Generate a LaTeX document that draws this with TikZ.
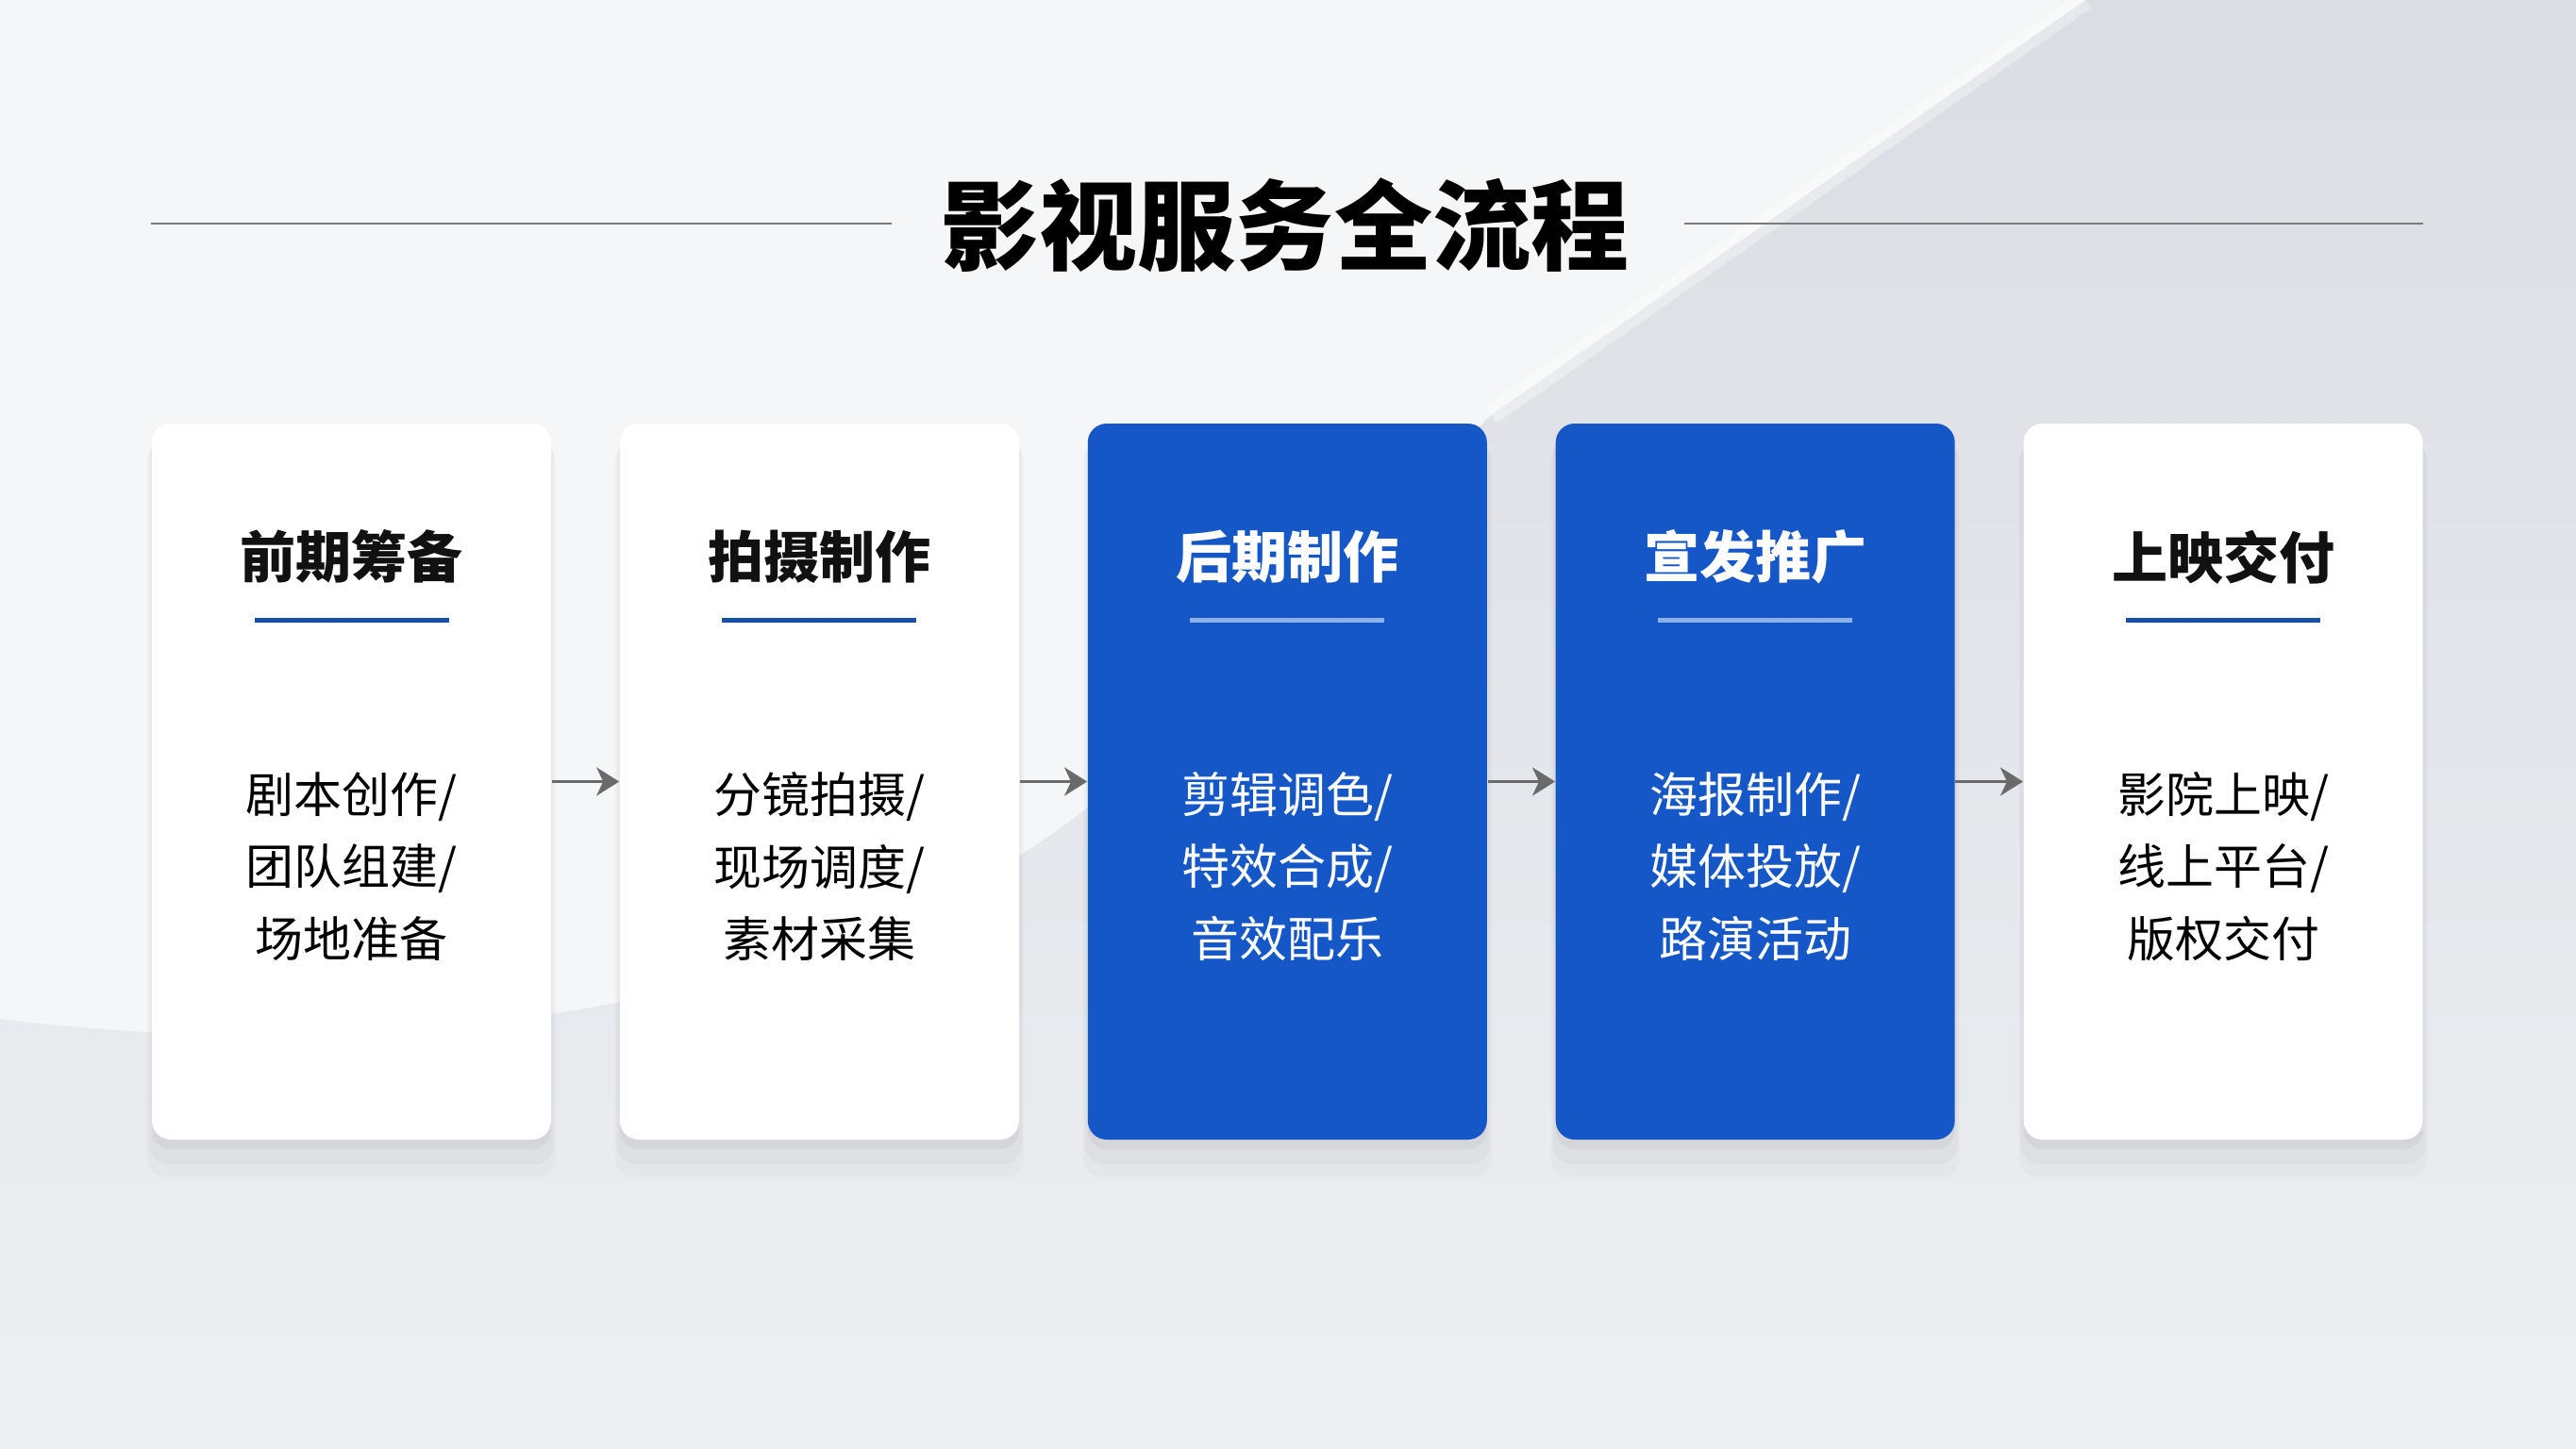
\documentclass[tikz,border=0pt]{standalone}
\usepackage{fontspec}
\setmainfont{Noto Sans CJK SC}
\usepackage{tikz}
\usetikzlibrary{arrows.meta, positioning, calc, shadows}
\definecolor{filmBlue}{HTML}{1657C7}
\definecolor{ruleBlue}{HTML}{1B4FA6}
\definecolor{ruleLight}{HTML}{8FB1EA}
\definecolor{arrowGray}{HTML}{6A6A6A}
\definecolor{lineGray}{HTML}{7A7A7A}
\definecolor{bgTop}{HTML}{DADDE3}
\definecolor{bgBottom}{HTML}{EDEFF2}
\definecolor{bgLight}{HTML}{F5F6F7}
\definecolor{headInk}{HTML}{111111}

\begin{document}
\begin{tikzpicture}[
    card/.style={rectangle, rounded corners=0.2cm, minimum width=4.23cm,
      minimum height=7.59cm, fill=white,
      drop shadow={shadow xshift=0cm, shadow yshift=-0.10cm, shadow scale=1.0, opacity=0.05, fill=black!80},
      drop shadow={shadow xshift=0cm, shadow yshift=-0.20cm, shadow scale=1.015, opacity=0.035, fill=black!80},
      drop shadow={shadow xshift=0cm, shadow yshift=-0.30cm, shadow scale=1.025, opacity=0.025, fill=black!80}},
    cardBlue/.style={card, fill=filmBlue},
    head/.style={font=\fontsize{16.8}{20}\selectfont\bfseries, text=headInk},
    body/.style={font=\fontsize{14.5}{21.8}\selectfont, align=center, text=black},
    rule/.style={line width=1.5pt, draw=ruleBlue},
    flow/.style={-{Stealth[length=0.24cm, width=0.3cm, inset=0.07cm]},
      draw=arrowGray, line width=0.9pt}]
    \useasboundingbox (0,0) rectangle (27.30,-15.35);
    % --- fondo ---
    \shade[top color=bgTop, bottom color=bgBottom] (0,0) rectangle (27.30,-15.35);
    \fill[bgLight] (0,0) -- (22.1,0) -- (15.8,-4.4) -- (11.6,-8.5)
      .. controls (9.5,-10.2) and (6.5,-10.8) .. (3.5,-11.0)
      .. controls (2.0,-11.0) and (0.8,-10.9) .. (0,-10.8) -- cycle;
    \draw[white, opacity=0.35, line width=6pt] (22.1,0) -- (15.8,-4.4);
    % --- titulo ---
    \node[font=\fontsize{29.6}{34}\selectfont\bfseries, text=black] (title) at (13.62,-2.39) {影视服务全流程};
    \draw[lineGray, line width=0.6pt] (1.60,-2.37) -- (9.45,-2.37);
    \draw[lineGray, line width=0.6pt] (17.85,-2.37) -- (25.68,-2.37);
    % --- tarjetas ---
    \node[card] (pre) at (3.725,-8.285) {};
    \node[card, right=0.715cm of pre] (shoot) {};
    \node[cardBlue, right=0.715cm of shoot] (post) {};
    \node[cardBlue, right=0.715cm of post] (promo) {};
    \node[card, right=0.715cm of promo] (release) {};
    % --- titulos de tarjeta ---
    \node[head] (preH) at ($(pre.north)+(0,-1.42)$) {前期筹备};
    \node[head] (shootH) at ($(shoot.north)+(0,-1.42)$) {拍摄制作};
    \node[head, text=white] (postH) at ($(post.north)+(0,-1.42)$) {后期制作};
    \node[head, text=white] (promoH) at ($(promo.north)+(0,-1.42)$) {宣发推广};
    \node[head] (releaseH) at ($(release.north)+(0,-1.42)$) {上映交付};
    \draw[rule] ($(pre.north)+(-1.03,-2.09)$) -- ++(2.06,0);
    \draw[rule] ($(shoot.north)+(-1.03,-2.09)$) -- ++(2.06,0);
    \draw[rule, draw=ruleLight] ($(post.north)+(-1.03,-2.09)$) -- ++(2.06,0);
    \draw[rule, draw=ruleLight] ($(promo.north)+(-1.03,-2.09)$) -- ++(2.06,0);
    \draw[rule] ($(release.north)+(-1.03,-2.09)$) -- ++(2.06,0);
    % --- textos ---
    \node[body] (preB) at ($(pre.center)+(0,-0.9)$) {剧本创作/\\团队组建/\\场地准备};
    \node[body] (shootB) at ($(shoot.center)+(0,-0.9)$) {分镜拍摄/\\现场调度/\\素材采集};
    \node[body, text=white] (postB) at ($(post.center)+(0,-0.9)$) {剪辑调色/\\特效合成/\\音效配乐};
    \node[body, text=white] (promoB) at ($(promo.center)+(0,-0.9)$) {海报制作/\\媒体投放/\\路演活动};
    \node[body] (releaseB) at ($(release.center)+(0,-0.9)$) {影院上映/\\线上平台/\\版权交付};
    % --- flechas ---
    \draw[flow] (pre.east) -- (shoot.west);
    \draw[flow] (shoot.east) -- (post.west);
    \draw[flow] (post.east) -- (promo.west);
    \draw[flow] (promo.east) -- (release.west);
\end{tikzpicture}
\end{document}
